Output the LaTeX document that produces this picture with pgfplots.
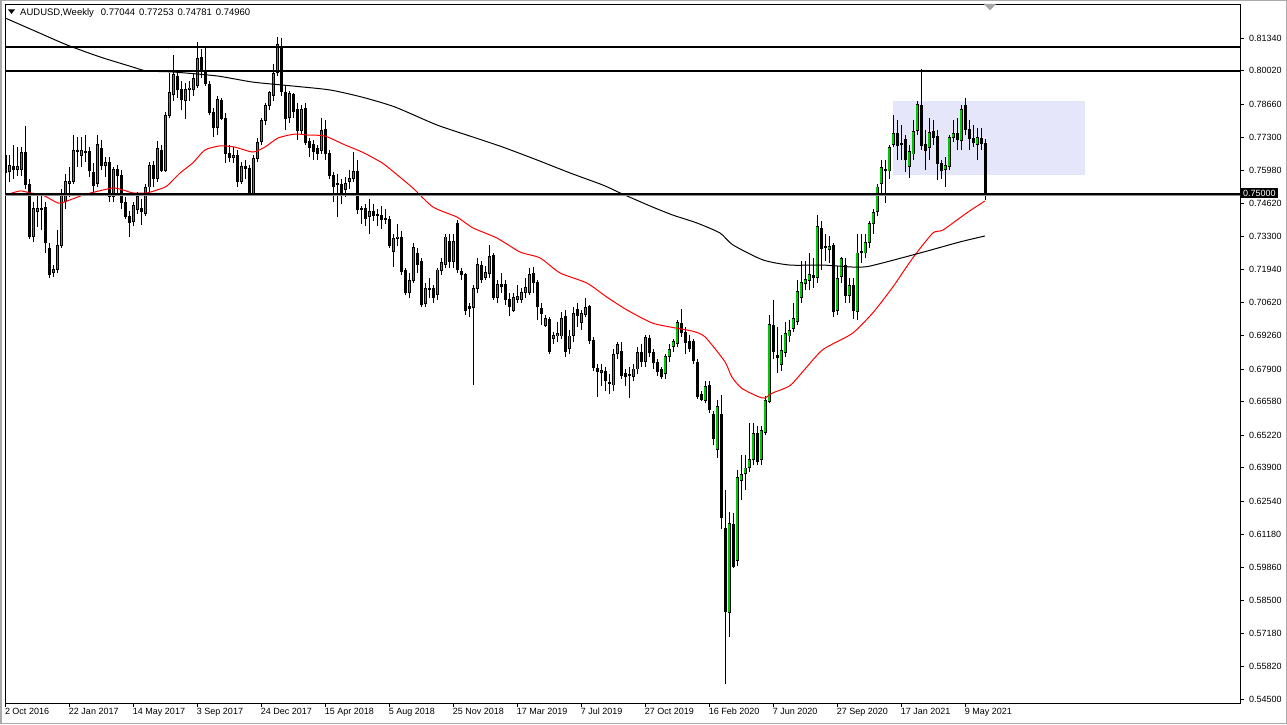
\documentclass[border=0pt]{standalone}
\usepackage{fontspec}
\setmainfont{Liberation Sans}
\usepackage{pgfplots}
\usepackage{pgfplotstable}
\pgfplotsset{compat=1.18}
\definecolor{bull}{RGB}{0,200,0}
\definecolor{lav}{RGB}{230,230,250}
\definecolor{winframe}{RGB}{170,170,170}

\pgfplotstableread{
i O H L C
0 0.7655 0.7700 0.7575 0.7586
1 0.7590 0.7660 0.7550 0.7615
2 0.7614 0.7700 0.7560 0.7602
3 0.7602 0.7690 0.7575 0.7612
4 0.7600 0.7690 0.7575 0.7671
5 0.7671 0.7777 0.7520 0.7541
6 0.7541 0.7560 0.7318 0.7330
7 0.7330 0.7470 0.7306 0.7440
8 0.7430 0.7505 0.7367 0.7440
9 0.7440 0.7505 0.7354 0.7436
10 0.7444 0.7470 0.7261 0.7302
11 0.7281 0.7300 0.7160 0.7172
12 0.7180 0.7212 0.7164 0.7196
13 0.7196 0.7354 0.7180 0.7293
14 0.7293 0.7520 0.7280 0.7500
15 0.7472 0.7580 0.7440 0.7553
16 0.7545 0.7610 0.7490 0.7553
17 0.7553 0.7740 0.7540 0.7679
18 0.7679 0.7732 0.7610 0.7675
19 0.7655 0.7732 0.7610 0.7679
20 0.7675 0.7740 0.7630 0.7669
21 0.7675 0.7690 0.7570 0.7594
22 0.7586 0.7627 0.7505 0.7537
23 0.7545 0.7740 0.7530 0.7700
24 0.7687 0.7720 0.7600 0.7618
25 0.7618 0.7650 0.7570 0.7627
26 0.7627 0.7650 0.7470 0.7489
27 0.7489 0.7610 0.7470 0.7600
28 0.7600 0.7620 0.7500 0.7575
29 0.7575 0.7600 0.7440 0.7468
30 0.7468 0.7490 0.7400 0.7411
31 0.7411 0.7430 0.7326 0.7383
32 0.7387 0.7470 0.7370 0.7452
33 0.7436 0.7510 0.7420 0.7489
34 0.7440 0.7480 0.7375 0.7428
35 0.7423 0.7540 0.7410 0.7525
36 0.7529 0.7630 0.7510 0.7618
37 0.7618 0.7635 0.7530 0.7565
38 0.7565 0.7715 0.7550 0.7687
39 0.7679 0.7700 0.7590 0.7598
40 0.7598 0.7835 0.7590 0.7821
41 0.7821 0.7990 0.7810 0.7911
42 0.7903 0.8065 0.7880 0.7984
43 0.7976 0.7990 0.7890 0.7923
44 0.7923 0.7960 0.7840 0.7886
45 0.7882 0.7950 0.7805 0.7923
46 0.7923 0.7960 0.7880 0.7931
47 0.7923 0.7990 0.7900 0.7968
48 0.7943 0.8118 0.7930 0.8049
49 0.8053 0.8090 0.7970 0.7996
50 0.7996 0.8097 0.7940 0.7951
51 0.7947 0.7960 0.7820 0.7830
52 0.7830 0.7850 0.7732 0.7769
53 0.7769 0.7900 0.7740 0.7886
54 0.7882 0.7890 0.7800 0.7809
55 0.7809 0.7830 0.7627 0.7667
56 0.7667 0.7700 0.7630 0.7647
57 0.7647 0.7690 0.7625 0.7655
58 0.7655 0.7680 0.7530 0.7553
59 0.7553 0.7630 0.7540 0.7614
60 0.7614 0.7640 0.7560 0.7606
61 0.7606 0.7620 0.7500 0.7504
62 0.7504 0.7660 0.7500 0.7643
63 0.7643 0.7730 0.7630 0.7708
64 0.7712 0.7810 0.7700 0.7801
65 0.7801 0.7870 0.7780 0.7858
66 0.7858 0.7920 0.7840 0.7911
67 0.7899 0.8030 0.7880 0.7988
68 0.7992 0.8138 0.7980 0.8106
69 0.8097 0.8135 0.7900 0.7915
70 0.7911 0.7940 0.7760 0.7809
71 0.7813 0.7920 0.7790 0.7907
72 0.7903 0.7910 0.7810 0.7834
73 0.7842 0.7870 0.7720 0.7760
74 0.7760 0.7860 0.7740 0.7842
75 0.7846 0.7870 0.7700 0.7708
76 0.7712 0.7730 0.7650 0.7691
77 0.7700 0.7720 0.7640 0.7675
78 0.7687 0.7700 0.7640 0.7667
79 0.7679 0.7810 0.7665 0.7760
80 0.7764 0.7800 0.7640 0.7667
81 0.7667 0.7680 0.7560 0.7574
82 0.7574 0.7590 0.7468 0.7533
83 0.7545 0.7580 0.7407 0.7541
84 0.7541 0.7560 0.7460 0.7500
85 0.7520 0.7570 0.7490 0.7545
86 0.7553 0.7600 0.7520 0.7565
87 0.7565 0.7671 0.7550 0.7590
88 0.7590 0.7640 0.7420 0.7436
89 0.7440 0.7450 0.7380 0.7436
90 0.7440 0.7460 0.7370 0.7403
91 0.7411 0.7480 0.7340 0.7428
92 0.7428 0.7460 0.7390 0.7415
93 0.7419 0.7440 0.7370 0.7415
94 0.7415 0.7450 0.7360 0.7399
95 0.7399 0.7440 0.7380 0.7403
96 0.7399 0.7410 0.7280 0.7293
97 0.7269 0.7340 0.7204 0.7318
98 0.7318 0.7380 0.7290 0.7326
99 0.7326 0.7350 0.7170 0.7184
100 0.7192 0.7200 0.7090 0.7099
101 0.7099 0.7180 0.7080 0.7151
102 0.7151 0.7300 0.7140 0.7285
103 0.7261 0.7280 0.7180 0.7216
104 0.7225 0.7240 0.7040 0.7050
105 0.7054 0.7140 0.7040 0.7115
106 0.7115 0.7160 0.7080 0.7111
107 0.7115 0.7130 0.7060 0.7082
108 0.7094 0.7200 0.7070 0.7192
109 0.7188 0.7240 0.7170 0.7221
110 0.7216 0.7340 0.7200 0.7326
111 0.7306 0.7340 0.7200 0.7225
112 0.7225 0.7340 0.7200 0.7306
113 0.7379 0.7395 0.7180 0.7196
114 0.7184 0.7200 0.7150 0.7172
115 0.7172 0.7180 0.7010 0.7026
116 0.7042 0.7060 0.7000 0.7034
117 0.7038 0.7130 0.6725 0.7115
118 0.7115 0.7240 0.7100 0.7216
119 0.7212 0.7230 0.7140 0.7155
120 0.7163 0.7210 0.7150 0.7180
121 0.7176 0.7295 0.7160 0.7245
122 0.7249 0.7260 0.7070 0.7082
123 0.7082 0.7150 0.7060 0.7135
124 0.7135 0.7180 0.7100 0.7123
125 0.7135 0.7150 0.7050 0.7074
126 0.7074 0.7100 0.7005 0.7042
127 0.7026 0.7100 0.7020 0.7082
128 0.7074 0.7130 0.7060 0.7086
129 0.7074 0.7120 0.7060 0.7099
130 0.7099 0.7160 0.7080 0.7119
131 0.7099 0.7200 0.7090 0.7172
132 0.7176 0.7205 0.7100 0.7143
133 0.7143 0.7150 0.6990 0.7042
134 0.7034 0.7060 0.6970 0.7017
135 0.6965 0.7010 0.6960 0.6997
136 0.6989 0.7000 0.6850 0.6863
137 0.6912 0.6940 0.6890 0.6928
138 0.6924 0.6980 0.6900 0.6936
139 0.6924 0.7020 0.6910 0.6997
140 0.7005 0.7030 0.6840 0.6863
141 0.6875 0.6950 0.6850 0.6924
142 0.6928 0.7040 0.6900 0.7017
143 0.7030 0.7060 0.6960 0.7009
144 0.6977 0.7030 0.6950 0.7017
145 0.7013 0.7080 0.7000 0.7038
146 0.7042 0.7050 0.6890 0.6904
147 0.6904 0.6920 0.6780 0.6798
148 0.6794 0.6810 0.6677 0.6778
149 0.6774 0.6810 0.6720 0.6782
150 0.6778 0.6800 0.6700 0.6745
151 0.6737 0.6770 0.6690 0.6733
152 0.6725 0.6870 0.6700 0.6847
153 0.6851 0.6900 0.6830 0.6888
154 0.6863 0.6900 0.6750 0.6762
155 0.6770 0.6790 0.6720 0.6758
156 0.6762 0.6800 0.6672 0.6766
157 0.6758 0.6810 0.6740 0.6790
158 0.6790 0.6880 0.6770 0.6855
159 0.6855 0.6890 0.6800 0.6819
160 0.6819 0.6930 0.6800 0.6916
161 0.6912 0.6930 0.6840 0.6855
162 0.6855 0.6870 0.6790 0.6815
163 0.6815 0.6830 0.6760 0.6778
164 0.6790 0.6800 0.6750 0.6758
165 0.6770 0.6850 0.6750 0.6839
166 0.6839 0.6890 0.6820 0.6871
167 0.6880 0.6910 0.6860 0.6900
168 0.6892 0.6990 0.6880 0.6977
169 0.6973 0.7034 0.6920 0.6940
170 0.6940 0.6960 0.6850 0.6896
171 0.6900 0.6930 0.6860 0.6875
172 0.6900 0.6910 0.6810 0.6823
173 0.6815 0.6830 0.6670 0.6677
174 0.6685 0.6700 0.6660 0.6668
175 0.6664 0.6740 0.6650 0.6717
176 0.6721 0.6740 0.6610 0.6624
177 0.6605 0.6620 0.6480 0.6506
178 0.6465 0.6664 0.6430 0.6636
179 0.6607 0.6685 0.6140 0.6185
180 0.6141 0.6300 0.5511 0.5804
181 0.5800 0.6210 0.5702 0.6161
182 0.6157 0.6205 0.5980 0.5986
183 0.6011 0.6380 0.5990 0.6348
184 0.6339 0.6440 0.6260 0.6360
185 0.6364 0.6440 0.6300 0.6388
186 0.6392 0.6571 0.6370 0.6421
187 0.6421 0.6570 0.6400 0.6530
188 0.6530 0.6560 0.6400 0.6413
189 0.6421 0.6560 0.6400 0.6542
190 0.6534 0.6680 0.6520 0.6664
191 0.6660 0.7009 0.6650 0.6969
192 0.6965 0.7070 0.6830 0.6863
193 0.6843 0.6961 0.6774 0.6835
194 0.6810 0.6930 0.6780 0.6867
195 0.6855 0.6980 0.6840 0.6936
196 0.6924 0.6990 0.6900 0.6948
197 0.6953 0.7060 0.6940 0.6997
198 0.6981 0.7150 0.6970 0.7103
199 0.7082 0.7230 0.7060 0.7143
200 0.7139 0.7230 0.7110 0.7155
201 0.7151 0.7260 0.7110 0.7172
202 0.7168 0.7240 0.7120 0.7160
203 0.7163 0.7415 0.7140 0.7367
204 0.7359 0.7390 0.7192 0.7281
205 0.7285 0.7340 0.7230 0.7289
206 0.7277 0.7330 0.7220 0.7289
207 0.7293 0.7300 0.7000 0.7022
208 0.7026 0.7210 0.7010 0.7156
209 0.7164 0.7245 0.7140 0.7237
210 0.7212 0.7240 0.7060 0.7090
211 0.7090 0.7160 0.7060 0.7131
212 0.7131 0.7160 0.6993 0.7026
213 0.7022 0.7340 0.6990 0.7261
214 0.7269 0.7340 0.7220 0.7265
215 0.7261 0.7340 0.7240 0.7302
216 0.7302 0.7390 0.7280 0.7379
217 0.7379 0.7440 0.7340 0.7424
218 0.7428 0.7540 0.7410 0.7529
219 0.7545 0.7640 0.7500 0.7610
220 0.7602 0.7639 0.7464 0.7594
221 0.7594 0.7700 0.7560 0.7691
222 0.7700 0.7821 0.7690 0.7748
223 0.7748 0.7800 0.7640 0.7696
224 0.7706 0.7780 0.7640 0.7700
225 0.7720 0.7740 0.7590 0.7639
226 0.7614 0.7700 0.7566 0.7675
227 0.7663 0.7800 0.7640 0.7756
228 0.7760 0.7880 0.7740 0.7866
229 0.7862 0.8008 0.7680 0.7696
230 0.7703 0.7760 0.7600 0.7679
231 0.7691 0.7810 0.7640 0.7752
232 0.7756 0.7800 0.7700 0.7732
233 0.7736 0.7760 0.7557 0.7626
234 0.7626 0.7640 0.7560 0.7598
235 0.7602 0.7650 0.7530 0.7618
236 0.7614 0.7740 0.7600 0.7732
237 0.7732 0.7800 0.7710 0.7748
238 0.7748 0.7810 0.7680 0.7720
239 0.7716 0.7860 0.7680 0.7842
240 0.7858 0.7890 0.7740 0.7764
241 0.7764 0.7800 0.7680 0.7724
242 0.7724 0.7780 0.7690 0.7708
243 0.7700 0.7770 0.7640 0.7732
244 0.7728 0.7770 0.7680 0.7704
245 0.77044 0.77253 0.74781 0.74960
}\candles

\pgfplotstableread{
i v
0 0.7496
3.7 0.7513
6.2 0.7505
9.4 0.7496
13.2 0.7464
15.4 0.7472
19.4 0.7496
22.4 0.7509
26.9 0.7525
29.4 0.7517
31.9 0.7505
35.4 0.7505
38.7 0.7521
40.4 0.7533
43.7 0.7586
46.9 0.7627
49.9 0.7679
53.7 0.7696
57.4 0.7691
61.9 0.7671
64.9 0.7691
68.2 0.7728
72.4 0.7744
75.7 0.7740
79.9 0.7736
84.9 0.7700
89.2 0.7671
94.2 0.7627
97.4 0.7586
101.9 0.7525
106.9 0.7448
112.9 0.7407
116.9 0.7363
122.9 0.7322
128.7 0.7265
133.7 0.7241
138.7 0.7180
145.4 0.7139
150.4 0.7082
155.4 0.7030
161.7 0.6977
167.4 0.6957
171.7 0.6944
174.9 0.6921
179.9 0.6820
181.6 0.6759
184.1 0.6712
188.2 0.6678
189.9 0.6672
191.6 0.6691
194.9 0.6712
196.9 0.6733
203.7 0.6859
206.9 0.6892
211.9 0.6936
216.9 0.7018
221.9 0.7123
226.9 0.7241
231.9 0.7342
234.4 0.7354
240.4 0.7424
244.9 0.7472
}\maRed

\pgfplotstableread{
i v
0 0.8215
6.9 0.8166
15.4 0.8106
23.7 0.8057
31.9 0.8016
35.4 0.8000
41.9 0.7996
52.9 0.7980
61.9 0.7955
71.9 0.7939
81.2 0.7923
89.2 0.7894
97.4 0.7854
107.9 0.7781
116.9 0.7732
124.4 0.7691
132.9 0.7639
141.2 0.7586
149.4 0.7537
153.7 0.7505
161.2 0.7452
166.9 0.7415
172.9 0.7383
178.7 0.7342
181.9 0.7294
189.4 0.7233
196.2 0.7212
204.4 0.7212
211.9 0.7204
216.2 0.7208
228.7 0.7261
238.7 0.7306
244.9 0.7330
}\maBlack

\begin{document}
\begin{tikzpicture}[font=\fontsize{9}{11}\selectfont]
\path[use as bounding box] (0pt,0pt) rectangle (1287pt,724pt);
\fill[white] (0pt,0pt) rectangle (1287pt,724pt);
\draw[winframe, line width=1.5pt] (0.75pt,0.75pt) rectangle (1286.25pt,723.25pt);
\begin{axis}[
  at={(5pt,21pt)}, anchor=south west,
  width=1235pt, height=699pt, scale only axis,
  xmin=-0.075, xmax=308.7, ymin=0.54337, ymax=0.82721,
  clip mode=individual,
  axis line style={black, line width=0.8pt},
  tick align=outside, major tick length=4pt,
  tick style={black, line width=0.8pt},
  xtick pos=left, ytick pos=right, yticklabel pos=right,
  xtick={0,16,...,240},
  xticklabels={2 Oct 2016, 22 Jan 2017, 14 May 2017, 3 Sep 2017, 24 Dec 2017, 15 Apr 2018, 5 Aug 2018, 25 Nov 2018, 17 Mar 2019, 7 Jul 2019, 27 Oct 2019, 16 Feb 2020, 7 Jun 2020, 27 Sep 2020, 17 Jan 2021, 9 May 2021},
  ytick={0.8134,0.8002,0.7866,0.7730,0.7598,0.7462,0.7330,0.7194,0.7062,0.6926,0.6790,0.6658,0.6522,0.6390,0.6254,0.6118,0.5986,0.5850,0.5718,0.5582,0.5450},
  yticklabels={0.81340,0.80020,0.78660,0.77300,0.75980,0.74620,0.73300,0.71940,0.70620,0.69260,0.67900,0.66580,0.65220,0.63900,0.62540,0.61180,0.59860,0.58500,0.57180,0.55820,0.54500},
  xticklabel style={anchor=north west, inner sep=0pt, xshift=-0.5pt, yshift=-1pt},
  yticklabel style={anchor=west, inner sep=0pt, xshift=5pt},
]
% rectangle zone
\fill[lav] (axis cs:221.9,0.7578) rectangle (axis cs:269.9,0.7878);
% wicks
\addplot[draw=black, line width=1pt, mark=none, forget plot,
  quiver={u=0, v={\thisrow{H}-\thisrow{L}}}]
  table[x=i, y=L] {\candles};
% bodies (outline)
\addplot[draw=black, line width=3.3pt, mark=none, forget plot,
  quiver={u=0, v={abs(\thisrow{C}-\thisrow{O})+0.0004}}]
  table[x=i, y expr={min(\thisrow{O},\thisrow{C})-0.0002}] {\candles};
% bullish fill (zero length for bearish candles)
\addplot[draw=bull, line width=1.5pt, mark=none, forget plot,
  quiver={u=0, v={max(\thisrow{C}-\thisrow{O}-0.0004,0)}}]
  table[x=i, y expr={\thisrow{O}+0.0002}] {\candles};
% moving averages
\addplot[red, line width=1pt, forget plot, smooth, tension=0.4] table[x=i, y=v] {\maRed};
\addplot[black, line width=1pt, forget plot, smooth, tension=0.4] table[x=i, y=v] {\maBlack};
% horizontal levels
\addplot[black, line width=2pt, forget plot] coordinates {(-1,0.8099) (310,0.8099)};
\addplot[black, line width=2pt, forget plot] coordinates {(-1,0.8001) (310,0.8001)};
\addplot[black!45, line width=1pt, forget plot] coordinates {(-1,0.74945) (310,0.74945)};
\addplot[black, line width=2.2pt, forget plot] coordinates {(-1,0.7500) (310,0.7500)};
\end{axis}
% price label of the 0.75 level
\node[fill=black, text=white, anchor=west, inner xsep=2.5pt, inner ysep=1.5pt] at (1240.5pt,531pt) {0.75000};
% header
\fill[black] (8pt,714.5pt) -- (15pt,714.5pt) -- (11.5pt,710pt) -- cycle;
\node[anchor=base west, inner sep=0pt, font=\fontsize{9.5}{11}\selectfont] at (20pt,708pt) {AUDUSD,Weekly\hspace{7pt}0.77044\hspace{4pt}0.77253\hspace{4pt}0.74781\hspace{4pt}0.74960};
% chart shift marker
\fill[black!35] (984pt,720pt) -- (996pt,720pt) -- (990pt,713.5pt) -- cycle;
\end{tikzpicture}
\end{document}
